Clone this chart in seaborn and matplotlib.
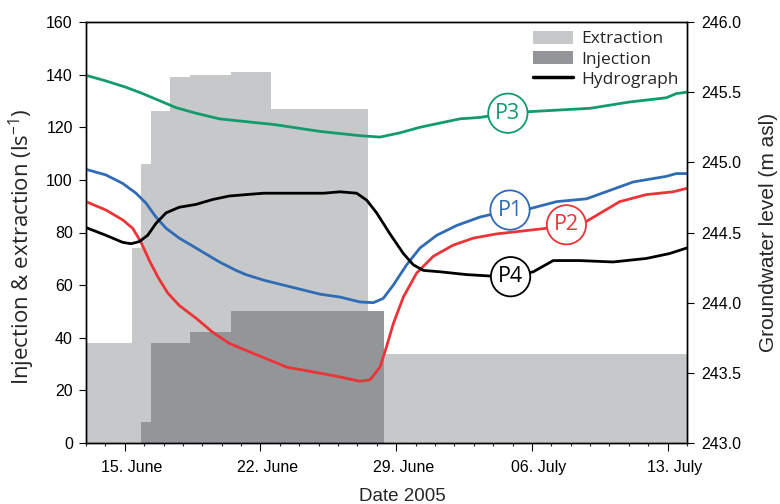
import matplotlib
matplotlib.use("Agg")
import matplotlib.pyplot as plt
import matplotlib.transforms as mtransforms
from matplotlib.patches import Patch
from matplotlib.lines import Line2D
from matplotlib.ticker import FixedLocator, MultipleLocator
import pandas as pd
import seaborn as sns

# ---- pumping rates (l/s), step changes; day = day of June 2005 ----
extraction_start = [13.0, 15.36, 15.82, 16.37, 17.33, 18.36, 20.48, 22.53, 27.53, 28.38]
extraction_rate = [38, 74, 106, 126, 139, 140, 141, 127, 0, 34]
extraction_end = 44.0

injection_start = [13.0, 15.82, 16.37, 18.36, 20.48, 28.38]
injection_rate = [0, 8, 38, 42, 50, 0]
injection_end = 44.0

# ---- groundwater levels (m asl) ----
p1_day = [13.0, 14.03, 14.89, 15.58, 16.09, 16.61, 17.13, 17.81, 18.85, 19.88, 20.74,
          21.25, 22.17, 25.09, 26.10, 27.13, 27.82, 28.33, 28.85, 29.54, 30.23, 31.09,
          32.12, 33.32, 34.87, 35.90, 37.28, 38.82, 41.22, 42.93, 43.45, 44.0]
p1_level = [244.95, 244.91, 244.85, 244.78, 244.71, 244.61, 244.53, 244.46, 244.375,
            244.29, 244.23, 244.20, 244.16, 244.06, 244.04, 244.005, 244.00, 244.03,
            244.125, 244.27, 244.39, 244.48, 244.55, 244.61, 244.66, 244.67, 244.72,
            244.74, 244.86, 244.90, 244.92, 244.92]

p2_day = [13.0, 14.03, 14.89, 15.41, 15.84, 16.27, 16.70, 17.21, 17.81, 18.67, 19.53,
          20.39, 21.25, 23.37, 25.77, 27.13, 27.65, 28.16, 28.51, 28.85, 29.37, 30.05,
          30.91, 31.94, 32.98, 34.18, 36.76, 37.78, 38.82, 40.53, 41.90, 43.28, 44.0]
p2_level = [244.72, 244.66, 244.59, 244.53, 244.43, 244.30, 244.185, 244.07, 243.98,
            243.89, 243.79, 243.71, 243.66, 243.54, 243.48, 243.44, 243.45, 243.54,
            243.69, 243.85, 244.04, 244.21, 244.33, 244.41, 244.46, 244.49, 244.53,
            244.555, 244.58, 244.72, 244.77, 244.79, 244.815]

p3_day = [13.0, 13.52, 14.03, 15.06, 15.92, 16.78, 17.64, 18.67, 19.88, 21.25, 22.67,
          25.09, 27.13, 28.16, 29.19, 30.23, 31.26, 32.29, 33.32, 34.76, 35.73, 39.00,
          41.04, 42.93, 43.45, 44.0]
p3_level = [245.62, 245.60, 245.58, 245.535, 245.49, 245.44, 245.39, 245.35, 245.31,
            245.29, 245.27, 245.22, 245.19, 245.18, 245.21, 245.25, 245.28, 245.31,
            245.32, 245.35, 245.36, 245.385, 245.43, 245.46, 245.49, 245.50]

p4_day = [13.0, 14.03, 14.89, 15.32, 15.75, 16.18, 16.61, 17.13, 17.81, 18.67, 19.53,
          20.39, 21.25, 22.17, 25.26, 26.10, 26.96, 27.48, 27.99, 28.68, 29.37, 29.88,
          30.40, 31.26, 32.63, 33.84, 34.90, 36.07, 37.10, 38.47, 40.18, 41.90, 43.10,
          44.0]
p4_level = [244.535, 244.48, 244.43, 244.42, 244.435, 244.48, 244.565, 244.64, 244.68,
            244.70, 244.735, 244.76, 244.77, 244.78, 244.78, 244.79, 244.78, 244.73,
            244.64, 244.49, 244.35, 244.27, 244.23, 244.22, 244.20, 244.19, 244.185,
            244.22, 244.30, 244.30, 244.29, 244.315, 244.35, 244.39]

# circled piezometer labels: (name, day, level)
label_pos = [("P3", 34.76, 245.35), ("P1", 34.87, 244.66),
             ("P2", 37.78, 244.555), ("P4", 34.90, 244.185)]

tick_days = [15, 22, 29, 36, 43]
tick_labels = ["15. June", "22. June", "29. June", "06. July", "13. July"]

left_ticks = [0, 20, 40, 60, 80, 100, 120, 140, 160]
right_ticks = [243.0, 243.5, 244.0, 244.5, 245.0, 245.5, 246.0]

col_extr = "#c7c8ca"
col_inj = "#939598"
col_p1 = "#2f6cb5"
col_p2 = "#ec3338"
col_p3 = "#129b6c"
col_p4 = "#000000"

sns.set_theme(style="ticks")
plt.rcParams["font.family"] = ["Liberation Sans", "DejaVu Sans"]
plt.rcParams["mathtext.default"] = "regular"
label_font = ["Open Sans", "DejaVu Sans"]

fig = plt.figure(figsize=(7.8, 5.04), dpi=100)
ax = fig.add_axes([86 / 780, 61 / 504, 601 / 780, 421 / 504])

# step areas for pumping
ex_x = extraction_start + [extraction_end]
ex_y = extraction_rate + [extraction_rate[-1]]
in_x = injection_start + [injection_end]
in_y = injection_rate + [injection_rate[-1]]
ax.fill_between(ex_x, ex_y, step="post", color=col_extr, lw=0, zorder=1)
ax.fill_between(in_x, in_y, step="post", color=col_inj, lw=0, zorder=2)

ax.set_xlim(13.0, 44.0)
ax.set_ylim(0, 160)
ax.yaxis.set_major_locator(FixedLocator(left_ticks))
ax.set_yticklabels([str(v) for v in left_ticks])
ax.xaxis.set_major_locator(FixedLocator(tick_days))
ax.xaxis.set_minor_locator(MultipleLocator(1))
ax.set_xticklabels(tick_labels)

# groundwater levels on the right axis
ax2 = ax.twinx()
series = [
    ("P3", p3_day, p3_level, col_p3),
    ("P1", p1_day, p1_level, col_p1),
    ("P2", p2_day, p2_level, col_p2),
    ("P4", p4_day, p4_level, col_p4),
]
for name, d, lv, c in series:
    df = pd.DataFrame({"day": d, "level": lv})
    line_ax = sns.lineplot(data=df, x="day", y="level", ax=ax2, color=c, lw=2.0,
                           sort=False, estimator=None)
for ln in ax2.get_lines():
    ln.set_solid_joinstyle("round")
    ln.set_solid_capstyle("round")

ax2.set_ylim(243.0, 246.0)
ax2.yaxis.set_major_locator(FixedLocator(right_ticks))
ax2.set_yticklabels([f"{v:.1f}" for v in right_ticks])
ax2.set_xlim(13.0, 44.0)

colors = {"P1": col_p1, "P2": col_p2, "P3": col_p3, "P4": col_p4}
for name, d, lv in label_pos:
    ax2.text(d, lv, name, ha="center", va="center", color=colors[name],
             fontsize=15.5, family=label_font, zorder=5,
             bbox=dict(boxstyle="circle,pad=0.33", fc="white",
                       ec=colors[name], lw=1.3))

# axes styling
for a in (ax, ax2):
    for s in a.spines.values():
        s.set_visible(True)
        s.set_linewidth(1.0)
        s.set_color("black")
ax.tick_params(axis="y", which="major", length=5, width=0.8, direction="out",
               labelsize=11.5, pad=4.5, colors="black")
ax.tick_params(axis="x", which="major", length=6, width=0.8, direction="out",
               labelsize=11.5, pad=6, colors="black")
ax.tick_params(axis="x", which="minor", length=2.5, width=0.8, direction="out")
ax2.tick_params(axis="y", which="major", length=5, width=0.8, direction="out",
                labelsize=11.5, pad=5, colors="black")

offset = mtransforms.ScaledTranslation(0.07, 0, fig.dpi_scale_trans)
for lab in ax.get_xticklabels():
    lab.set_transform(lab.get_transform() + offset)

ax.set_xlabel("Date 2005", fontsize=13.5)
ax.xaxis.set_label_coords(0.527, -0.126)
ax.xaxis.label.set_va("center")

ax.set_ylabel("Injection & extraction (ls$^{-1}$)", fontsize=16, family=label_font)
ax.yaxis.set_label_coords(-0.1065, 0.466)
ax.yaxis.label.set_va("center")

ax2.set_ylabel("Groundwater level (m asl)", fontsize=15, rotation=90)
ax2.yaxis.set_label_coords(1.136, 0.5)
ax2.yaxis.label.set_va("center")

handles = [Patch(color=col_extr, lw=0), Patch(color=col_inj, lw=0),
           Line2D([], [], color="black", lw=2.5)]
leg = ax2.legend(handles, ["Extraction", "Injection", "Hydrograph"],
                 loc="upper right", bbox_to_anchor=(1.0, 1.0), frameon=False,
                 prop={"family": label_font, "size": 12.5},
                 handlelength=2.3, handleheight=0.8, handletextpad=0.45,
                 labelspacing=0.2, borderaxespad=0.2, borderpad=0.3)

fig.savefig("out.png", dpi=100)
